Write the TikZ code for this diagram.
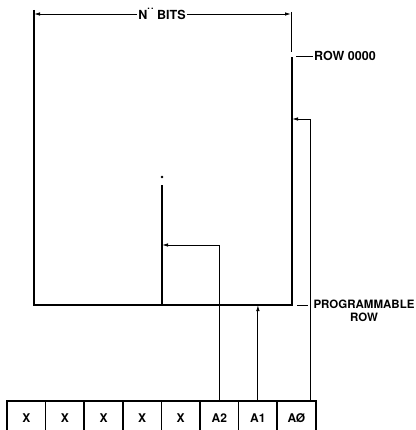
\documentclass[tikz,border=0pt]{standalone}
\usepackage{fontspec}
\setmainfont{TeX Gyre Heros}
\usetikzlibrary{arrows.meta}
\tikzset{
  heavy/.style={draw=black,line width=1.7pt},
  light/.style={draw=black,line width=0.9pt},
  tip/.style={-{Latex[length=6pt,width=3.5pt]}},
  cell/.style={draw=black,line width=1.5pt,minimum width=38.6pt,minimum height=34pt,
    anchor=north,inner sep=0pt},
  lbl/.style={inner sep=1pt,font=\fontsize{12.5}{13}\selectfont\bfseries}
}
\begin{document}
\begin{tikzpicture}[x=1pt,y=-1pt,every node/.append style={font=\fontsize{12}{13}\selectfont\bfseries}]
\useasboundingbox (0,0) rectangle (415,430);
% register cells
\foreach \i/\t in {1/X,2/X,3/X,4/X,5/X,6/A2,7/A1,8/AØ}
  \node[cell] (cell\i) at (7+38.6*\i-19.3,400) {\t};
% memory array
\coordinate (topleft) at (34,10);
\coordinate (botleft) at (34,305);
\coordinate (botright) at (292,305);
\coordinate (rowzero) at (292,57);
\coordinate (topright) at (291,12);
\coordinate (gapright) at (291,52);
\coordinate (colbot) at (162,305);
\coordinate (coltop) at (162,185);
\path[heavy] (topleft) -- (botleft) -- (botright) -- (rowzero);
\path[light] (topright) -- (gapright);
\path[heavy] (colbot) -- (coltop);
\path[draw=black,fill=black] (162,177) circle (1pt);
% width
\node[lbl] (nbits) at (162,14) {N\raisebox{1.45ex}{\small.\hspace{1.2pt}.}\ BITS};
\coordinate (dimleft) at (34,14);
\coordinate (dimright) at (291,14);
\path[light,tip] (nbits.west) -- (dimleft);
\path[light,tip] (nbits.east) -- (dimright);
% row labels
\node[lbl,anchor=west] (row0) at (313,56) {ROW 0000};
\path[light] (296,56) -- (row0.west);
\node[lbl,align=center,anchor=north,font=\fontsize{11.5}{13}\selectfont\bfseries]
  (progrow) at (364,299) {PROGRAMMABLE\\ROW};
\path[light] (297,305) -- (308,305);
% address lines
\coordinate (a2bend) at (cell6.north |- 0,245);
\coordinate (a2end) at (colbot |- a2bend);
\path[light,tip] (cell6.north) -- (a2bend) -- (a2end);
\coordinate (a1end) at (cell7.north |- botright);
\path[light,tip] (cell7.north) -- (a1end);
\coordinate (a0foot) at (310,400);
\coordinate (a0bend) at (310,119);
\coordinate (a0end) at (292,119);
\path[light,tip] (a0foot) -- (a0bend) -- (a0end);
\end{tikzpicture}
\end{document}
